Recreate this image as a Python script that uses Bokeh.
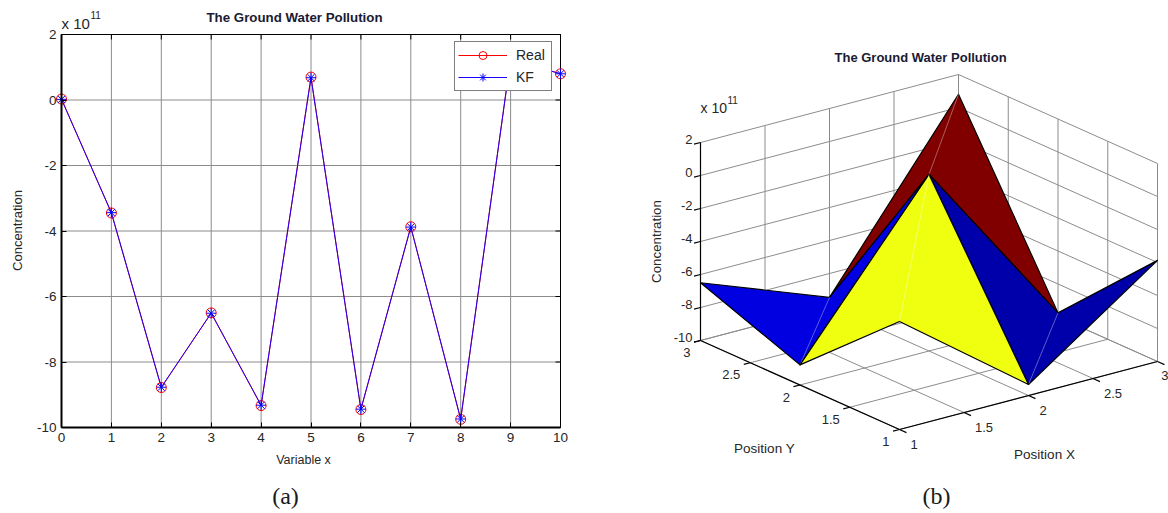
from bokeh.plotting import figure
from bokeh.layouts import row
from bokeh.models import Range1d, FixedTicker, Legend, LegendItem
from bokeh.core.properties import value
from bokeh.embed import file_html
from bokeh.resources import INLINE

TITLE = "The Ground Water Pollution"
FONT = "Liberation Sans"
SERIF = "Liberation Serif"
TXT = "#262626"
TITLE_COLOR = "#1a1a33"
GRID = "#8c8c8c"
HEIGHT = 513

# ---- panel (a) values (units of 1e11)
variable_x = [0, 1, 2, 3, 4, 5, 6, 7, 8, 9, 10]
real = [0.03, -3.45, -8.78, -6.50, -9.33, 0.70, -9.45, -3.87, -9.75, 1.25, 0.80]
kf = [0.02, -3.44, -8.77, -6.51, -9.32, 0.68, -9.44, -3.88, -9.74, 1.25, 0.80]
x_ticks = [0, 1, 2, 3, 4, 5, 6, 7, 8, 9, 10]
y_ticks = [-10, -8, -6, -4, -2, 0, 2]

# ---- panel (b) values (units of 1e11)
pos_x = [1, 2, 3]
pos_y = [1, 2, 3]
conc_y1 = [-3.45, -9.33, -3.87]
conc_y2 = [-8.78, 0.70, -9.75]
conc_y3 = [-6.50, -9.45, 0.80]
conc = [conc_y1, conc_y2, conc_y3]
z_ticks = [-10, -8, -6, -4, -2, 0, 2]
xy_ticks = [1, 1.5, 2, 2.5, 3]
xy_labels = ["1", "1.5", "2", "2.5", "3"]
# facets, painted back to front: (lower x index, lower y index, colour)
facets = [(1, 1, "#800000"), (0, 1, "#0000e0"), (1, 0, "#0000aa"), (0, 0, "#f0ff10")]

# ================= panel (a)
# The plotting frame fills the whole canvas, so markers and texts outside the
# axes box are not clipped; the axes box itself sits at these pixel positions.
W1 = 590
BOX_L, BOX_R, BOX_T, BOX_B = 61, 560, 34, 427
XMIN, XMAX, YMIN, YMAX = x_ticks[0], x_ticks[-1], y_ticks[0], y_ticks[-1]
SX = (BOX_R - BOX_L) / (XMAX - XMIN)
SY = (BOX_B - BOX_T) / (YMAX - YMIN)


def to_x(px):
    return XMIN + (px - BOX_L) / SX


def to_y(py):
    return YMAX - (py - BOX_T) / SY


p1 = figure(width=W1, height=HEIGHT, output_backend="svg", toolbar_location=None,
            x_range=Range1d(to_x(0), to_x(W1)), y_range=Range1d(to_y(HEIGHT), to_y(0)),
            min_border=0, background_fill_color="white", border_fill_color="white")
p1.frame_align = False
p1.outline_line_color = None
p1.grid.visible = False

# grid lines within the axes box
p1.segment(x_ticks, [YMIN] * len(x_ticks), x_ticks, [YMAX] * len(x_ticks), line_color=GRID, line_width=1)
p1.segment([XMIN] * len(y_ticks), y_ticks, [XMAX] * len(y_ticks), y_ticks, line_color=GRID, line_width=1)
# top and right box edges with inward ticks
p1.segment([XMIN, XMAX], [YMAX, YMAX], [XMAX, XMAX], [YMAX, YMIN], line_color="black", line_width=1)
p1.segment(x_ticks, [YMAX] * len(x_ticks), x_ticks, [YMAX - 5 / SY] * len(x_ticks), line_color="black")
p1.segment([XMAX] * len(y_ticks), y_ticks, [XMAX - 5 / SX] * len(y_ticks), y_ticks, line_color="black")

for ax, ticks, loc, bnds in ((p1.xaxis, x_ticks, YMIN, (XMIN, XMAX)), (p1.yaxis, y_ticks, XMIN, (YMIN, YMAX))):
    ax.fixed_location = loc
    ax.bounds = bnds
    ax.ticker = FixedTicker(ticks=ticks)
    ax.major_label_overrides = {t: str(t) for t in ticks}
    ax.major_tick_in = 5
    ax.major_tick_out = 0
    ax.minor_tick_in = 0
    ax.minor_tick_out = 0
    ax.axis_line_color = "black"
    ax.axis_line_width = 2
    ax.major_tick_line_color = "black"
    ax.major_label_text_font = FONT
    ax.major_label_text_font_size = "13.5px"
    ax.major_label_text_color = TXT
    ax.major_label_standoff = 5

l_real = p1.line(variable_x, real, line_color="#ff0000", line_width=1)
m_real = p1.scatter(variable_x, real, marker="circle", size=10, line_color="#ff0000",
                    fill_color=None, line_width=1)
l_kf = p1.line(variable_x, kf, line_color="#1a00ff", line_width=1)
m_kf = p1.scatter(variable_x, kf, marker="asterisk", size=10, line_color="#0000ff", line_width=1)
leg = Legend(items=[LegendItem(label="Real", renderers=[l_real, m_real]),
                    LegendItem(label="KF", renderers=[l_kf, m_kf])],
             location=(454, HEIGHT - 91), margin=0, padding=3, spacing=2,
             glyph_width=49, glyph_height=20, label_standoff=9, label_width=32, label_height=20,
             border_line_color="black", border_line_width=1.2, background_fill_alpha=1,
             label_text_font=FONT, label_text_font_size="14px", label_text_color=TXT,
             label_text_baseline="middle", level="overlay")
p1.add_layout(leg, "center")


def text1(px, py, t, size="13px", font=FONT, color=TXT, align="left", style="normal", angle=0):
    p1.text([to_x(px)], [to_y(py)], text=[t], text_font=value(font), text_font_size=value(size),
            text_color=color, text_align=align, text_baseline="middle", text_font_style=style, angle=angle)


text1(294, 17, TITLE, size="13.3px", color=TITLE_COLOR, align="center", style="bold")
text1(303, 459, "Variable x", size="12.5px", align="center")
text1(17, 230, "Concentration", size="13px", align="center", angle=1.5708)
text1(61, 23, "x 10", size="15px")
text1(90, 14, "11", size="10px")
text1(285, 495, "(a)", size="24px", font=SERIF, color="#1a1a1a", align="center")

# ================= panel (b): oblique projection of the 3-D axes box
OX, OY = 899.0, 429.0
DXX, DXY = 129.0, -34.0
DYX, DYY = -99.5, -44.5
DZ = -16.5


def project(x, y, z):
    return (OX + (x - 1) * DXX + (y - 1) * DYX, OY + (x - 1) * DXY + (y - 1) * DYY + (z + 10) * DZ)


p2 = figure(width=578, height=HEIGHT, output_backend="svg", toolbar_location=None,
            x_range=Range1d(590, 1168), y_range=Range1d(HEIGHT, 66),
            min_border_left=0, min_border_right=0, min_border_top=66, min_border_bottom=0,
            x_axis_type=None, y_axis_type=None,
            background_fill_color="white", border_fill_color="white")
p2.frame_align = False
p2.outline_line_color = None
p2.grid.visible = False
p2.title.text = TITLE
p2.title.text_font = FONT
p2.title.text_font_size = "13px"
p2.title.text_font_style = "bold"
p2.title.text_color = TITLE_COLOR
p2.title.align = "left"
p2.title.offset = 244
p2.title.standoff = 3

zmin, zmax = z_ticks[0], z_ticks[-1]
gx0, gx1, gy0, gy1 = [], [], [], []


def seg(a, b):
    gx0.append(a[0]); gy0.append(a[1]); gx1.append(b[0]); gy1.append(b[1])


for t in xy_ticks:
    seg(project(t, 3, zmin), project(t, 3, zmax))   # back wall verticals
    seg(project(3, t, zmin), project(3, t, zmax))   # side wall verticals
    seg(project(t, 1, zmin), project(t, 3, zmin))   # floor
    seg(project(1, t, zmin), project(3, t, zmin))   # floor
for t in z_ticks:
    seg(project(1, 3, t), project(3, 3, t))
    seg(project(3, 1, t), project(3, 3, t))
p2.segment(gx0, gy0, gx1, gy1, line_color=GRID, line_width=1)

for i, j, col in facets:
    corners = [(i, j), (i + 1, j), (i + 1, j + 1), (i, j + 1)]
    pts = [project(pos_x[a], pos_y[b], conc[b][a]) for a, b in corners]
    p2.patch([q[0] for q in pts], [q[1] for q in pts], fill_color=col,
             line_color="black", line_width=1.2, line_join="round")
    a, b = pts[0], pts[2]
    p2.line([a[0], b[0]], [a[1], b[1]], line_color="white", line_alpha=0.45, line_width=0.8)

# axis lines and ticks
ax_x0, ax_x1, ax_y0, ax_y1 = [], [], [], []
for a, b in ((project(1, 3, zmin), project(1, 3, zmax)),
             (project(1, 1, zmin), project(3, 1, zmin)),
             (project(1, 1, zmin), project(1, 3, zmin))):
    ax_x0.append(a[0]); ax_y0.append(a[1]); ax_x1.append(b[0]); ax_y1.append(b[1])
for t in z_ticks:
    a, b = project(1, 3, t), project(0.95, 3, t)
    ax_x0.append(a[0]); ax_y0.append(a[1]); ax_x1.append(b[0]); ax_y1.append(b[1])
for t in xy_ticks:
    a, b = project(t, 1, zmin), project(t, 0.93, zmin)
    ax_x0.append(a[0]); ax_y0.append(a[1]); ax_x1.append(b[0]); ax_y1.append(b[1])
    a, b = project(1, t, zmin), project(0.95, t, zmin)
    ax_x0.append(a[0]); ax_y0.append(a[1]); ax_x1.append(b[0]); ax_y1.append(b[1])
p2.segment(ax_x0, ax_y0, ax_x1, ax_y1, line_color="black", line_width=1.2)


def text2(x, y, t, size="13px", font=FONT, color=TXT, align="left", base="middle", angle=0):
    p2.text([x], [y], text=[t], text_font=value(font), text_font_size=value(size), text_color=color,
            text_align=align, text_baseline=base, angle=angle)


for t in z_ticks:
    px, py = project(1, 3, t)
    text2(px - 8, py - 3, str(t), align="right")
for t, lab in zip(xy_ticks, xy_labels):
    px, py = project(1, t, zmin)
    text2(px - 10, py + 12, lab, align="right")
    px, py = project(t, 1, zmin)
    if t == xy_ticks[-1]:
        text2(1168, py + 14, lab, align="right")
    else:
        text2(px + 11, py + 15, lab, align="left")
text2(700, 107, "x 10", size="14px")
text2(727, 99, "11", size="10px")
text2(764, 448, "Position Y", size="13.5px", align="center")
text2(1044, 454, "Position X", size="13.5px", align="center")
text2(656, 241, "Concentration", size="13.3px", align="center", angle=1.5708)
text2(936, 495, "(b)", size="24px", font=SERIF, color="#1a1a1a", align="center")

open("out.html", "w").write(file_html(row(p1, p2, spacing=0), INLINE))
